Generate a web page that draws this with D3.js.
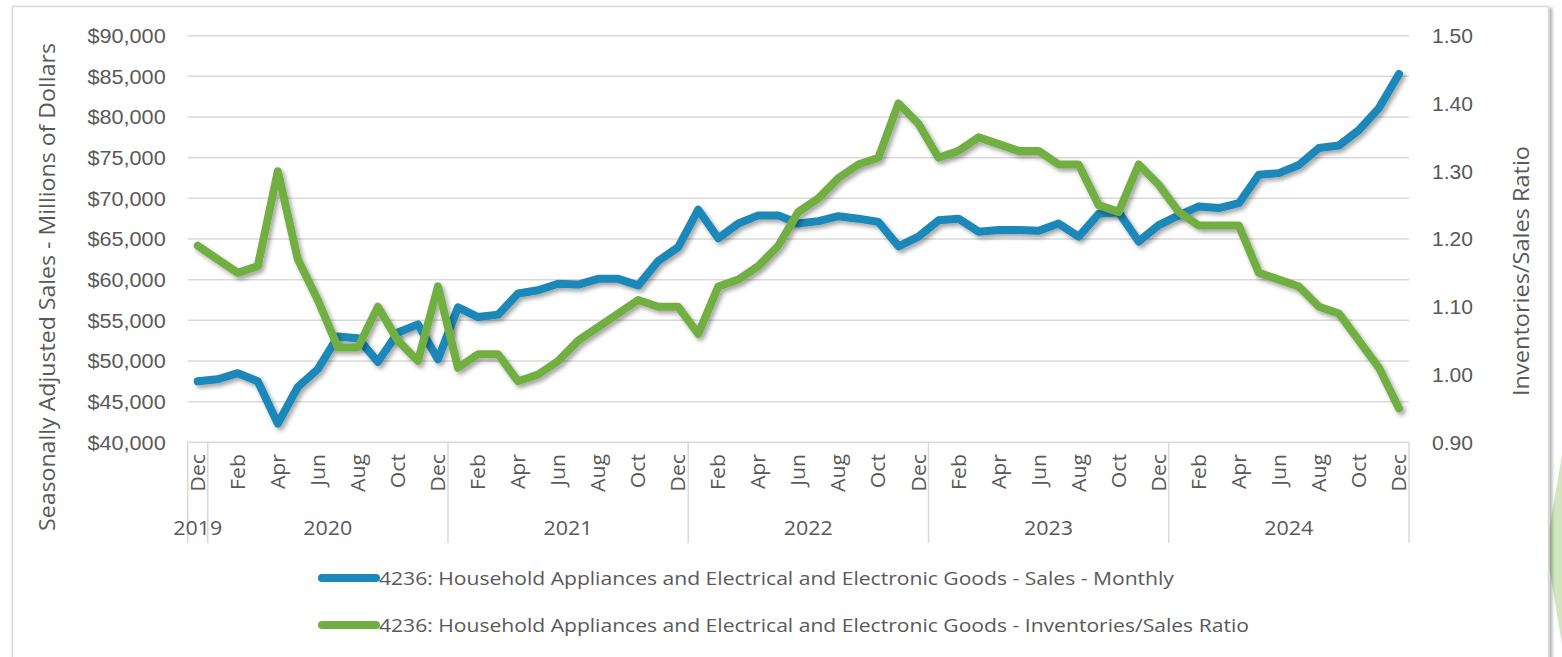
<!DOCTYPE html>
<html>
<head>
<meta charset="utf-8">
<script src="https://cdn.jsdelivr.net/npm/d3@7"></script>
<style>
  html, body { margin: 0; padding: 0; background: #fff; }
  svg { display: block; font-family: "Open Sans", "DejaVu Sans", sans-serif; }
  text { fill: #595959; }
</style>
</head>
<body>
<svg id="chart" width="1562" height="657"></svg>
<script>
// categories: Dec 2019 .. Dec 2024
const years = ["2019", "2020", "2021", "2022", "2023", "2024"];
const monthsInYear = [1, 12, 12, 12, 12, 12];
const monthNames = ["Jan", "Feb", "Mar", "Apr", "May", "Jun", "Jul", "Aug", "Sep", "Oct", "Nov", "Dec"];
const shownMonths = ["Feb", "Apr", "Jun", "Aug", "Oct", "Dec"];

// sales, millions of dollars
const sales = [
  47500, 47750, 48500, 47500, 42300, 46800, 49000, 53000, 52800, 49900, 53500, 54500, 50200,
  56600, 55400, 55700, 58300, 58700, 59500, 59400, 60100, 60100, 59300, 62300, 64000,
  68600, 65100, 66900, 67900, 67900, 66900, 67200, 67800, 67500, 67100, 64100, 65300,
  67300, 67500, 65900, 66100, 66100, 66000, 66900, 65300, 68100, 68300, 64700, 66700,
  67900, 69000, 68800, 69400, 72900, 73100, 74100, 76200, 76500, 78400, 81100, 85300
];
// inventories / sales ratio
const ratio = [
  1.19, 1.17, 1.15, 1.16, 1.30, 1.17, 1.11, 1.04, 1.04, 1.10, 1.05, 1.02, 1.13,
  1.01, 1.03, 1.03, 0.99, 1.00, 1.02, 1.05, 1.07, 1.09, 1.11, 1.10, 1.10,
  1.06, 1.13, 1.14, 1.16, 1.19, 1.24, 1.26, 1.29, 1.31, 1.32, 1.40, 1.37,
  1.32, 1.33, 1.35, 1.34, 1.33, 1.33, 1.31, 1.31, 1.25, 1.24, 1.31, 1.28,
  1.24, 1.22, 1.22, 1.22, 1.15, 1.14, 1.13, 1.10, 1.09, 1.05, 1.01, 0.95
];
const leftTicks = [40000, 45000, 50000, 55000, 60000, 65000, 70000, 75000, 80000, 85000, 90000];
const rightTicks = [0.9, 1.0, 1.1, 1.2, 1.3, 1.4, 1.5];
const seriesNames = [
  "4236: Household Appliances and Electrical and Electronic Goods - Sales - Monthly",
  "4236: Household Appliances and Electrical and Electronic Goods - Inventories/Sales Ratio"
];
const colors = ["#1a88ba", "#72af43"];

// build category list from the year/month arrays
const cats = [];
years.forEach((y, yi) => {
  const n = monthsInYear[yi];
  const start = n === 12 ? 0 : 12 - n;
  for (let m = start; m < 12; m++) cats.push({ month: monthNames[m], year: y });
});

// the original font is a bit wider than Open Sans: stretch glyphs sideways
function widen(sel, k) {
  sel.each(function () {
    const w = this.getComputedTextLength();
    d3.select(this).attr("textLength", w * k).attr("lengthAdjust", "spacingAndGlyphs");
  });
}

const svg = d3.select("#chart");
const defs = svg.append("defs");

const shadow = defs.append("filter").attr("id", "shadow")
  .attr("x", "-5%").attr("y", "-5%").attr("width", "110%").attr("height", "120%");
shadow.append("feDropShadow")
  .attr("dx", 2.5).attr("dy", 3).attr("stdDeviation", 2)
  .attr("flood-color", "#000").attr("flood-opacity", 0.35);

const frameShadow = defs.append("filter").attr("id", "frameShadow")
  .attr("x", "-2%").attr("y", "-2%").attr("width", "104%").attr("height", "104%");
frameShadow.append("feDropShadow")
  .attr("dx", 3).attr("dy", 2).attr("stdDeviation", 1.5)
  .attr("flood-color", "#000").attr("flood-opacity", 0.3);

// decoration peeking at the right edge
svg.append("polygon")
  .attr("points", "1562,455 1546,548 1562,645")
  .attr("fill", "#cfe6bf");

// chart frame
svg.append("rect")
  .attr("x", 12.5).attr("y", 6.5).attr("width", 1536).attr("height", 700)
  .attr("fill", "#fff").attr("stroke", "#d9d9d9").attr("stroke-width", 1.5)
  .attr("filter", "url(#frameShadow)");

const plot = { left: 187.7, right: 1409, top: 35.7, bottom: 442.3 };

const x = d3.scaleBand().domain(d3.range(cats.length)).range([plot.left, plot.right]);
const yL = d3.scaleLinear().domain([40000, 90000]).range([plot.bottom, plot.top]);
const yR = d3.scaleLinear().domain([0.9, 1.5]).range([plot.bottom, plot.top]);
const cx = i => x(i) + x.bandwidth() / 2;

// gridlines
svg.append("g").selectAll("line")
  .data(leftTicks.slice(1))
  .join("line")
  .attr("x1", plot.left).attr("x2", plot.right)
  .attr("y1", d => yL(d)).attr("y2", d => yL(d))
  .attr("stroke", "#d9d9d9").attr("stroke-width", 1.5);

// left axis
const axL = svg.append("g")
  .attr("transform", `translate(${plot.left - 22},0)`)
  .call(d3.axisLeft(yL).tickValues(leftTicks).tickSize(0).tickPadding(0).tickFormat(d3.format("$,.0f")));
axL.select(".domain").remove();
axL.selectAll("text").style("font-size", "19.5px").attr("fill", "#595959").attr("dy", "0.35em")
  .call(widen, 1.11);

// right axis
const axR = svg.append("g")
  .attr("transform", `translate(${plot.right + 23},0)`)
  .call(d3.axisRight(yR).tickValues(rightTicks).tickSize(0).tickPadding(0).tickFormat(d3.format(".2f")));
axR.select(".domain").remove();
axR.selectAll("text").style("font-size", "19.5px").attr("fill", "#595959").attr("dy", "0.35em")
  .call(widen, 1.08);

// axis titles
svg.append("text")
  .attr("transform", "translate(55,287) rotate(-90)")
  .attr("text-anchor", "middle")
  .style("font-size", "21px")
  .text("Seasonally Adjusted Sales - Millions of Dollars")
  .call(widen, 1.1);
svg.append("text")
  .attr("transform", "translate(1529,271) rotate(-90)")
  .attr("text-anchor", "middle")
  .style("font-size", "21px")
  .text("Inventories/Sales Ratio")
  .call(widen, 1.12);

// category axis: two-level box
const axisBottom = 543;
const catAxis = svg.append("g");
catAxis.append("line")
  .attr("x1", plot.left).attr("x2", plot.right)
  .attr("y1", plot.bottom).attr("y2", plot.bottom)
  .attr("stroke", "#d9d9d9").attr("stroke-width", 1.5);

let acc = 0;
const groups = years.map((y, yi) => {
  const g = { year: y, start: acc, end: acc + monthsInYear[yi] - 1 };
  acc += monthsInYear[yi];
  return g;
});
const bounds = [plot.left].concat(groups.map(g => x(g.end) + x.bandwidth()));
catAxis.selectAll("line.sep")
  .data(bounds)
  .join("line").attr("class", "sep")
  .attr("x1", d => d).attr("x2", d => d)
  .attr("y1", plot.bottom).attr("y2", axisBottom)
  .attr("stroke", "#d9d9d9").attr("stroke-width", 1.5);

catAxis.selectAll("text.month")
  .data(cats.map((c, i) => ({ c, i })).filter(d => shownMonths.includes(d.c.month)))
  .join("text").attr("class", "month")
  .attr("transform", d => `translate(${cx(d.i)},454) rotate(-90)`)
  .attr("text-anchor", "end")
  .attr("dy", "0.36em")
  .style("font-size", "19.5px")
  .text(d => d.c.month)
  .call(widen, 1.09);

catAxis.selectAll("text.year")
  .data(groups)
  .join("text").attr("class", "year")
  .attr("x", g => (x(g.start) + x(g.end) + x.bandwidth()) / 2)
  .attr("y", 535)
  .attr("text-anchor", "middle")
  .style("font-size", "19.5px")
  .text(g => g.year)
  .call(widen, 1.1);

// series lines
const lineL = d3.line().x((d, i) => cx(i)).y(d => yL(d));
const lineR = d3.line().x((d, i) => cx(i)).y(d => yR(d));

svg.append("path")
  .datum(sales)
  .attr("d", lineL)
  .attr("fill", "none").attr("stroke", colors[0]).attr("stroke-width", 8)
  .attr("stroke-linejoin", "round").attr("stroke-linecap", "round")
  .attr("filter", "url(#shadow)");

svg.append("path")
  .datum(ratio)
  .attr("d", lineR)
  .attr("fill", "none").attr("stroke", colors[1]).attr("stroke-width", 8)
  .attr("stroke-linejoin", "round").attr("stroke-linecap", "round")
  .attr("filter", "url(#shadow)");

// legend
const legend = svg.append("g");
const legendY = [578, 625];
seriesNames.forEach((name, i) => {
  legend.append("line")
    .attr("x1", 322).attr("x2", 376)
    .attr("y1", legendY[i]).attr("y2", legendY[i])
    .attr("stroke", colors[i]).attr("stroke-width", 8).attr("stroke-linecap", "round");
  legend.append("text")
    .attr("x", 379).attr("y", legendY[i])
    .attr("dy", "0.35em")
    .style("font-size", "19px")
    .text(name)
    .call(widen, 1.11);
});
</script>
</body>
</html>
